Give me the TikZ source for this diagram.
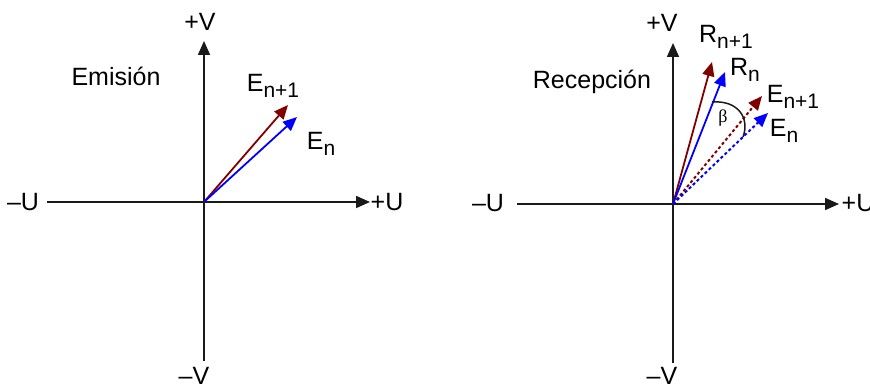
\documentclass[tikz,border=0pt]{standalone}
\usepackage{fontspec}
\setmainfont{Liberation Sans}
\newfontfamily\greekserif{Liberation Serif}
\usepackage{xcolor}
\usetikzlibrary{arrows.meta}

\definecolor{axisgray}{RGB}{26,26,26}
\definecolor{vecred}{RGB}{128,0,0}
\definecolor{vecblue}{RGB}{0,0,255}

% lowered subscript in text font
\newcommand{\idx}[1]{\raisebox{-0.45ex}{\fontsize{21}{22}\selectfont #1}}

\begin{document}
\begin{tikzpicture}[x=1pt,y=-1pt,
	axis/.style={line width=1.7pt,color=axisgray},
	axisarrow/.style={axis,-{Triangle[length=14pt,width=12pt]}},
	vec/.style={line width=1.8pt,-{Triangle[length=14pt,width=12pt]}},
	dotvec/.style={vec,line width=2pt,dash pattern=on 3pt off 2.5pt},
	lbl/.style={inner sep=0pt,font=\fontsize{25}{28}\selectfont}]
	
	\useasboundingbox (0,0) rectangle (870,387);
	
	% Emission diagram
	\coordinate (O1) at (204,202);
	\coordinate (top1) at (204,41);
	\coordinate (bot1) at (204,361);
	\coordinate (left1) at (47,202);
	\coordinate (right1) at (370,202);
	\draw[axisarrow] (bot1) -- (top1);
	\draw[axisarrow] (left1) -- (right1);
	
	\node[lbl] (pv1) at (200,22) {+V};
	\node[lbl] (mv1) at (194,376) {--V};
	\node[lbl] (mu1) at (23,202) {--U};
	\node[lbl] (pu1) at (387,202) {+U};
	\node[lbl] (emi) at (116,76) {Emisión};
	
	\coordinate (e1a) at (288,105);
	\coordinate (e1b) at (297,117);
	\draw[vec,vecred] (O1) -- (e1a);
	\draw[vec,vecblue] (O1) -- (e1b);
	\node[lbl] (le1a) at (273,86) {E\idx{n+1}};
	\node[lbl] (le1b) at (321,144) {E\idx{n}};
	
	% Reception diagram
	\coordinate (O2) at (673,204);
	\coordinate (top2) at (673,43);
	\coordinate (bot2) at (673,363);
	\coordinate (left2) at (517,204);
	\coordinate (right2) at (839,204);
	\draw[axisarrow] (bot2) -- (top2);
	\draw[axisarrow] (left2) -- (right2);
	
	\node[lbl] (pv2) at (662,23) {+V};
	\node[lbl] (mv2) at (662,376) {--V};
	\node[lbl] (mu2) at (488,203) {--U};
	\node[lbl] (pu2) at (858,203) {+U};
	\node[lbl] (rec) at (592,82) {Recepción};
	
	\coordinate (r2a) at (712,62);
	\coordinate (r2b) at (725,72);
	\coordinate (e2a) at (762,96);
	\coordinate (e2b) at (768,113);
	\draw[dotvec,vecred] (O2) -- (e2a);
	\draw[dotvec,vecblue] (O2) -- (e2b);
	\draw[vec,vecred] (O2) -- (r2a);
	\draw[vec,vecblue] (O2) -- (r2b);
	\node[lbl] (lr2a) at (726,37) {R\idx{n+1}};
	\node[lbl] (lr2b) at (745,70) {R\idx{n}};
	\node[lbl] (le2a) at (793,97) {E\idx{n+1}};
	\node[lbl] (le2b) at (784,131) {E\idx{n}};
	
	% angle beta
	\coordinate (b1) at (712,102);
	\coordinate (b2) at (743,137);
	\draw[line width=1.5pt,axisgray] (b1) .. controls (738,100) and (750,118) .. (b2);
	\node[lbl,font=\greekserif\fontsize{18}{20}\selectfont] (beta) at (723,118) {β};
	
\end{tikzpicture}
\end{document}
